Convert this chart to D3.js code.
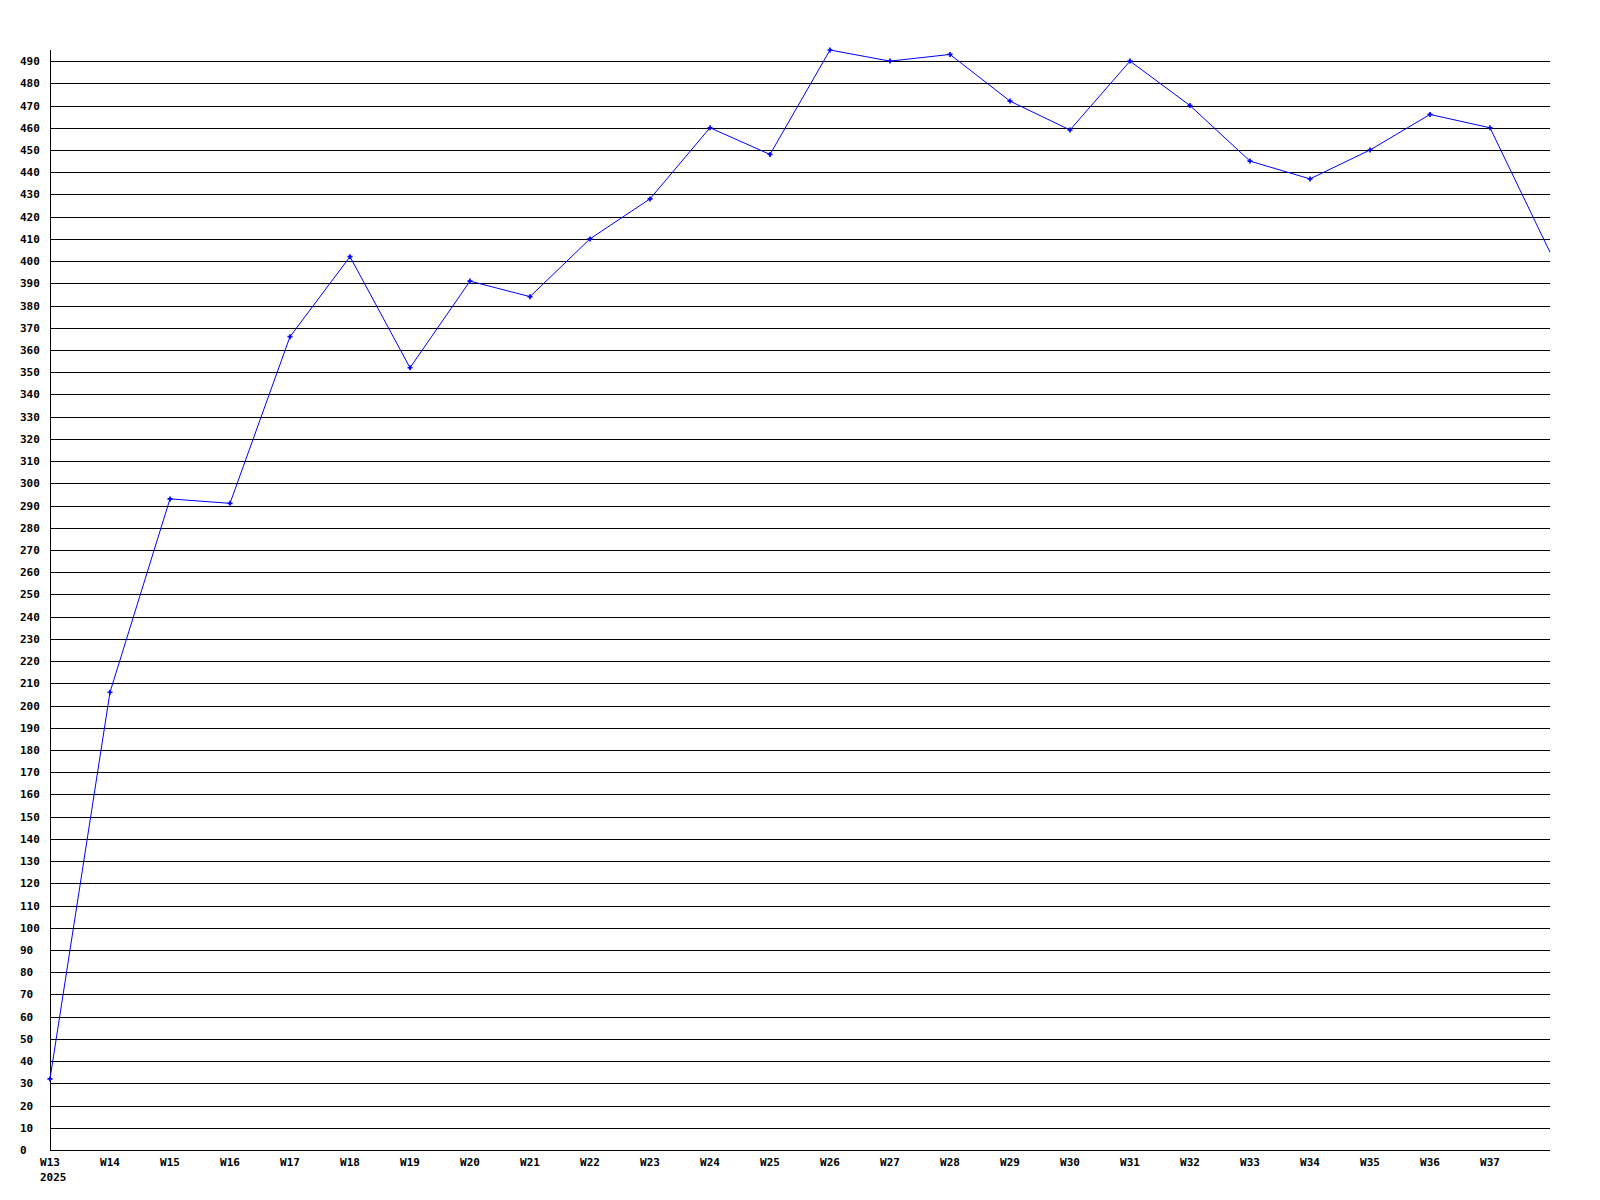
<!DOCTYPE html>
<html>
<head>
<meta charset="utf-8">
<script src="https://cdn.jsdelivr.net/npm/d3@7"></script>
<style>
  body { margin: 0; background: #fff; }
  text { font-family: "DejaVu Sans Mono", "Liberation Mono", monospace; font-weight: bold; font-size: 11px; }
</style>
</head>
<body>
<div id="chart"></div>
<script>
var weeks = ["W13", "W14", "W15", "W16", "W17", "W18", "W19", "W20", "W21", "W22", "W23", "W24", "W25",
             "W26", "W27", "W28", "W29", "W30", "W31", "W32", "W33", "W34", "W35", "W36", "W37", "W38"];
var weekLabels = weeks.slice(0, 25);
var values = [32, 206, 293, 291, 366, 402, 352, 391, 384, 410, 428, 460, 448,
              495, 490, 493, 472, 459, 490, 470, 445, 437, 450, 466, 460, 404];
var yTicks = d3.range(0, 500, 10);
var yearLabel = "2025";

(function() {
    var width = 1600,
        height = 1200,
        plot = {left: 50, right: 1550, top: 50, bottom: 1150};

    var svg = d3.select("#chart").append("svg")
        .attr("width", width)
        .attr("height", height);

    var x = d3.scaleLinear().domain([0, weeks.length - 1]).range([plot.left, plot.right]);
    var y = d3.scaleLinear().domain([0, d3.max(values)]).range([plot.bottom, plot.top]);

    // horizontal grid lines
    svg.append("g")
        .selectAll("line")
        .data(yTicks)
        .enter().append("line")
        .attr("x1", plot.left)
        .attr("x2", plot.right)
        .attr("y1", function(d) { return Math.round(y(d)) + 0.5; })
        .attr("y2", function(d) { return Math.round(y(d)) + 0.5; })
        .attr("stroke", "#000")
        .attr("stroke-width", 1)
        .attr("shape-rendering", "crispEdges");

    // y axis line
    svg.append("line")
        .attr("x1", plot.left + 0.5).attr("x2", plot.left + 0.5)
        .attr("y1", plot.top).attr("y2", plot.bottom + 0.5)
        .attr("stroke", "#000")
        .attr("shape-rendering", "crispEdges");

    // y labels
    svg.append("g")
        .selectAll("text")
        .data(yTicks)
        .enter().append("text")
        .attr("x", 20)
        .attr("y", function(d) { return Math.round(y(d)) + 0.5; })
        .attr("dy", "0.35em")
        .text(function(d) { return d; });

    // x labels
    svg.append("g")
        .selectAll("text")
        .data(weekLabels)
        .enter().append("text")
        .attr("x", function(d, i) { return x(i); })
        .attr("y", 1162)
        .attr("dy", "0.35em")
        .attr("text-anchor", "middle")
        .text(function(d) { return d; });

    svg.append("text")
        .attr("x", 40)
        .attr("y", 1177)
        .attr("dy", "0.35em")
        .text(yearLabel);

    // data line
    var line = d3.line()
        .x(function(d, i) { return x(i); })
        .y(function(d) { return y(d); });

    svg.append("path")
        .datum(values)
        .attr("d", line)
        .attr("fill", "none")
        .attr("stroke", "#0000ff")
        .attr("stroke-width", 1);

    // markers (the last point sits on the edge, unmarked)
    svg.append("g")
        .selectAll("path")
        .data(values.slice(0, values.length - 1))
        .enter().append("path")
        .attr("transform", function(d, i) { return "translate(" + x(i) + "," + y(d) + ")"; })
        .attr("d", d3.symbol().type(d3.symbolCross).size(14))
        .attr("fill", "#0000ff");
})();
</script>
</body>
</html>
